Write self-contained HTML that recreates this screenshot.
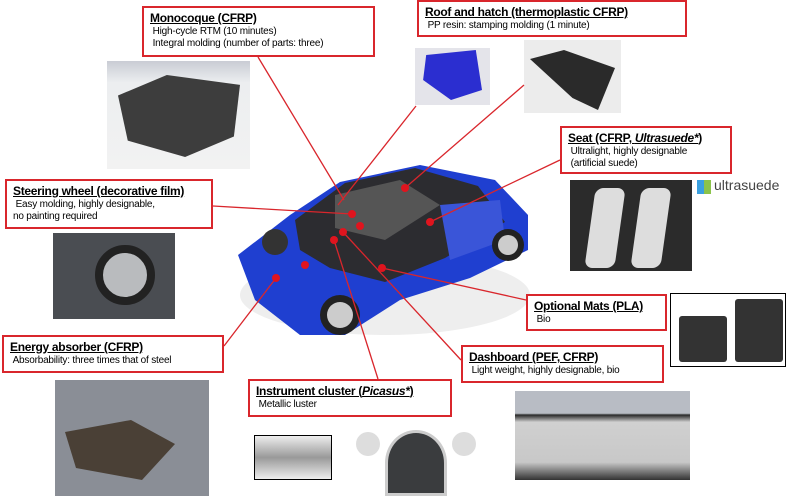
<!DOCTYPE html>
<html><head><meta charset="utf-8"><style>
body{margin:0;width:800px;height:496px;background:#fff;position:relative;overflow:hidden;font-family:"Liberation Sans Narrow","Liberation Sans",sans-serif}
.b{position:absolute;border:2px solid #d9262c;background:#fff;box-sizing:border-box;padding:3px 6px;font-size:10px;line-height:12px;color:#000;letter-spacing:-0.2px}
.b b{font-size:12px;text-decoration:underline;display:block;line-height:15px;letter-spacing:-0.3px}
.p{position:absolute}
svg{position:absolute;left:0;top:0}
</style></head><body>
<div class="p" style="left:107px;top:61px;width:143px;height:108px;background:linear-gradient(#c9ccd4 0,#eceef0 20%,#f2f2f2 100%)"></div>
<div class="p" style="left:118px;top:75px;width:122px;height:82px;background:#3d3d3d;clip-path:polygon(0 25%,40% 0,100% 12%,95% 75%,55% 100%,8% 80%)"></div>
<div class="p" style="left:415px;top:48px;width:75px;height:57px;background:#e4e4ea"></div>
<div class="p" style="left:420px;top:50px;width:62px;height:50px;background:#2b2ed0;clip-path:polygon(10% 10%,90% 0,100% 80%,50% 100%,5% 60%)"></div>
<div class="p" style="left:524px;top:40px;width:97px;height:73px;background:#ececec"></div>
<div class="p" style="left:530px;top:50px;width:85px;height:60px;background:#2a2a2a;clip-path:polygon(0 15%,40% 0,100% 30%,80% 100%,50% 80%)"></div>
<div class="p" style="left:570px;top:180px;width:122px;height:91px;background:#2b2b2b"></div>
<div class="p" style="left:590px;top:188px;width:30px;height:80px;background:#ddd;border-radius:8px;transform:skew(-8deg)"></div>
<div class="p" style="left:636px;top:188px;width:30px;height:80px;background:#ddd;border-radius:8px;transform:skew(-8deg)"></div>
<div class="p" style="left:697px;top:180px;width:14px;height:14px;background:linear-gradient(90deg,#3aa0e0 50%,#8bc34a 50%)"></div>
<div class="p" style="left:714px;top:177px;font-size:14px;color:#444;font-family:'Liberation Sans',sans-serif">ultrasuede</div>
<div class="p" style="left:53px;top:233px;width:122px;height:86px;background:#4a4d52"></div>
<div class="p" style="left:95px;top:245px;width:60px;height:60px;border-radius:50%;border:8px solid #222;box-sizing:border-box;background:#b9bbbe"></div>
<div class="p" style="left:670px;top:293px;width:116px;height:74px;border:1px solid #000;background:#fff;box-sizing:border-box"></div>
<div class="p" style="left:679px;top:316px;width:48px;height:46px;background:#333;border-radius:3px"></div>
<div class="p" style="left:735px;top:299px;width:48px;height:63px;background:#333;border-radius:3px"></div>
<div class="p" style="left:55px;top:380px;width:154px;height:116px;background:#8a8e96"></div>
<div class="p" style="left:65px;top:420px;width:110px;height:60px;background:#4a4036;clip-path:polygon(0 20%,60% 0,100% 40%,70% 100%,10% 80%)"></div>
<div class="p" style="left:254px;top:435px;width:78px;height:45px;border:1px solid #000;box-sizing:border-box;background:linear-gradient(#eee,#999,#eee)"></div>
<div class="p" style="left:385px;top:430px;width:62px;height:66px;border-radius:50% 50% 0 0;background:#3a3c3e;border:3px solid #ccc;box-sizing:border-box"></div>
<div class="p" style="left:356px;top:432px;width:24px;height:24px;border-radius:50%;background:#ddd"></div>
<div class="p" style="left:452px;top:432px;width:24px;height:24px;border-radius:50%;background:#ddd"></div>
<div class="p" style="left:515px;top:391px;width:175px;height:89px;background:linear-gradient(#b8bcc4 0,#b8bcc4 25%,#2a2a2a 27%,#d0d0d0 35%,#c8c8c8 80%,#333 100%)"></div>
<svg width="800" height="496">
<ellipse cx="385" cy="295" rx="145" ry="40" fill="#eee"/>
<path d="M238 255 L290 215 L340 182 L420 165 L495 180 L528 215 L528 250 L470 278 L400 300 L345 335 L300 335 L255 300 Z" fill="#1f3fd0"/>
<path d="M295 220 L345 183 L415 168 L478 186 L505 222 L445 258 L385 282 L330 268 L300 250 Z" fill="#2c2c30"/>
<path d="M335 195 L400 180 L440 205 L385 240 L335 228Z" fill="#555"/>
<path d="M440 205 L500 200 L505 240 L450 260Z" fill="#3a55d8"/>
<circle cx="340" cy="315" r="20" fill="#222"/><circle cx="340" cy="315" r="13" fill="#ccc"/>
<circle cx="508" cy="245" r="16" fill="#222"/><circle cx="508" cy="245" r="10" fill="#ccc"/>
<circle cx="275" cy="242" r="13" fill="#333"/>
<g stroke="#d9262c" stroke-width="1.3" fill="none">
<line x1="258" y1="57" x2="344" y2="200"/>
<line x1="416" y1="106" x2="338" y2="205"/>
<line x1="524" y1="85" x2="405" y2="188"/>
<line x1="560" y1="160" x2="430" y2="222"/>
<line x1="213" y1="206" x2="352" y2="214"/>
<line x1="224" y1="346" x2="276" y2="278"/>
<line x1="378" y1="379" x2="334" y2="240"/>
<line x1="461" y1="360" x2="343" y2="232"/>
<line x1="526" y1="300" x2="382" y2="268"/>
</g>
<g fill="#e0141e">
<circle cx="405" cy="188" r="4"/><circle cx="430" cy="222" r="4"/><circle cx="352" cy="214" r="4"/>
<circle cx="360" cy="226" r="4"/><circle cx="334" cy="240" r="4"/><circle cx="343" cy="232" r="4"/>
<circle cx="276" cy="278" r="4"/><circle cx="305" cy="265" r="4"/><circle cx="382" cy="268" r="4"/>
</g>
</svg>
<div class="b" style="left:142px;top:6px;width:233px;height:51px"><b>Monocoque (CFRP)</b>&nbsp;High-cycle RTM (10 minutes)<br>&nbsp;Integral molding (number of parts: three)</div>
<div class="b" style="left:417px;top:0px;width:270px;height:37px"><b>Roof and hatch (thermoplastic CFRP)</b>&nbsp;PP resin: stamping molding (1 minute)</div>
<div class="b" style="left:560px;top:126px;width:172px;height:48px"><b>Seat (CFRP, <i>Ultrasuede*</i>)</b>&nbsp;Ultralight, highly designable<br>&nbsp;(artificial suede)</div>
<div class="b" style="left:5px;top:179px;width:208px;height:50px"><b>Steering wheel (decorative film)</b>&nbsp;Easy molding, highly designable,<br>no painting required</div>
<div class="b" style="left:526px;top:294px;width:141px;height:37px"><b>Optional Mats (PLA)</b>&nbsp;Bio</div>
<div class="b" style="left:2px;top:335px;width:222px;height:38px"><b>Energy absorber (CFRP)</b>&nbsp;Absorbability: three times that of steel</div>
<div class="b" style="left:461px;top:345px;width:203px;height:38px"><b>Dashboard (PEF, CFRP)</b>&nbsp;Light weight, highly designable, bio</div>
<div class="b" style="left:248px;top:379px;width:204px;height:38px"><b>Instrument cluster (<i>Picasus*</i>)</b>&nbsp;Metallic luster</div>
</body></html>
